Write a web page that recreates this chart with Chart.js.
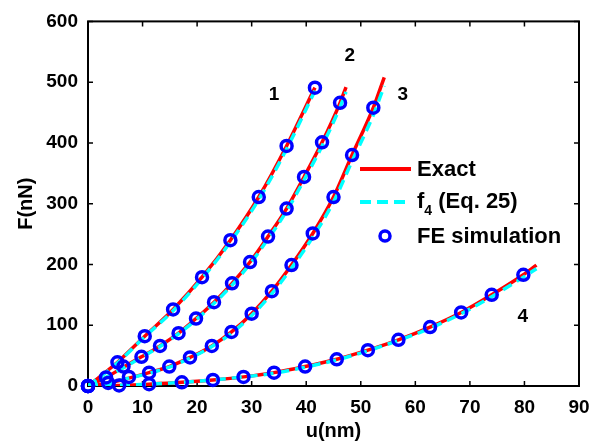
<!DOCTYPE html>
<html>
<head>
<meta charset="utf-8">
<script src="https://cdn.jsdelivr.net/npm/chart.js@4/dist/chart.umd.min.js"></script>
<style>
  html, body { margin: 0; padding: 0; background: #fff; }
  canvas { display: block; }
</style>
</head>
<body>
<canvas id="grafico" width="603" height="442"></canvas>
<script>
// displacement u (nm) and force F (nN)
const u1 = [0, 5.4, 10.4, 15.6, 20.9, 26.1, 31.3, 36.4, 41.6];
const exact1 = [0, 39, 82, 126, 179, 240, 311, 395, 491];
const f4_1 = [0, 38, 81, 124, 177, 237, 307, 390, 486];
const fe1 = [0, 39, 82, 126, 179, 240, 311, 395, 491];

const u2 = [0, 3.3, 6.5, 9.8, 13.2, 16.6, 19.8, 23.1, 26.4, 29.7, 33.0, 36.4, 39.6, 42.9, 46.2, 47.3];
const exact2 = [0, 14, 31, 48, 66, 87, 111, 138, 169, 204, 246, 292, 344, 401, 466, 492];
const f4_2 = [0, 14, 30, 47, 65, 86, 109, 136, 166, 201, 242, 288, 339, 395, 459, 484];
const fe2 = [0, 14, 32, 48, 66, 87, 111, 138, 169, 204, 246, 292, 344, 401, 466];

const u3 = [0, 3.7, 7.5, 11.2, 14.9, 18.7, 22.7, 26.3, 30.0, 33.7, 37.3, 41.2, 45.0, 48.4, 52.3, 54.3];
const exact3 = [0, 5, 13, 22, 32, 47, 66, 89, 119, 156, 199, 251, 311, 380, 458, 508];
const f4_3 = [0, 5, 13, 21, 31, 46, 65, 87, 116, 152, 194, 245, 303, 370, 446, 494];
const fe3 = [0, 5, 15, 22, 32, 47, 66, 89, 119, 156, 199, 251, 311, 380, 458];

const u4 = [0, 5.7, 11.2, 17.2, 22.9, 28.5, 34.1, 39.8, 45.6, 51.3, 56.9, 62.7, 68.4, 74.0, 79.8, 82.2];
const exact4 = [0, 1, 3, 6, 10, 15, 22, 32, 44, 59, 76, 97, 121, 150, 183, 199];
const f4_4 = [0, 1, 3, 6, 10, 15, 21, 31, 43, 58, 75, 95, 119, 147, 179, 193];
const fe4 = [0, 1, 3, 6, 10, 15, 22, 32, 44, 59, 76, 97, 121, 150, 183];

const curveLabels = ["1", "2", "3", "4"];
const labelU = [34.1, 48.0, 57.7, 79.7];
const labelF = [479, 543, 479, 114];

const legendLabels = ["Exact", "f", "FE simulation"];

const xTicks = [0, 10, 20, 30, 40, 50, 60, 70, 80, 90];
const yTicks = [0, 100, 200, 300, 400, 500, 600];

const FONT = "'Liberation Sans', Arial, Helvetica, sans-serif";
const RED = "#ff0000";
const CYAN = "#00ffff";
const BLUE = "#0000ff";

function pares(xs, ys) {
    return ys.map((y, i) => ({ x: xs[i], y: y }));
}

function linhaExata(xs, ys) {
    return {
        data: pares(xs, ys), showLine: true, borderColor: RED, borderWidth: 3.5,
        pointRadius: 0, cubicInterpolationMode: "monotone", order: 3
    };
}
function linhaF4(xs, ys) {
    return {
        data: pares(xs, ys), showLine: true, borderColor: CYAN, borderWidth: 3.5,
        borderDash: [10, 6], pointRadius: 0, cubicInterpolationMode: "monotone", order: 2
    };
}
function circulos(xs, ys) {
    return {
        data: pares(xs, ys), showLine: false, pointRadius: 5.5, pointBorderWidth: 3.5,
        pointBorderColor: BLUE, pointBackgroundColor: "rgba(0,0,0,0)", order: 1, clip: false
    };
}

// box, inward ticks, curve numbers and legend
const moldura = {
    id: "moldura",
    beforeDatasetsDraw(chart) {
        const ctx = chart.ctx;
        const a = chart.chartArea;
        const sx = chart.scales.x, sy = chart.scales.y;
        ctx.save();
        ctx.strokeStyle = "#000";
        ctx.lineWidth = 2;
        ctx.strokeRect(a.left, a.top, a.right - a.left, a.bottom - a.top);
        ctx.lineWidth = 1.5;
        ctx.beginPath();
        xTicks.forEach(v => {
            const px = sx.getPixelForValue(v);
            ctx.moveTo(px, a.bottom); ctx.lineTo(px, a.bottom - 5);
            ctx.moveTo(px, a.top); ctx.lineTo(px, a.top + 5);
        });
        yTicks.forEach(v => {
            const py = sy.getPixelForValue(v);
            ctx.moveTo(a.left, py); ctx.lineTo(a.left + 5, py);
            ctx.moveTo(a.right, py); ctx.lineTo(a.right - 5, py);
        });
        ctx.stroke();
        ctx.restore();
    },
    afterDatasetsDraw(chart) {
        const ctx = chart.ctx;
        const sx = chart.scales.x, sy = chart.scales.y;
        ctx.save();
        ctx.fillStyle = "#000";
        ctx.textAlign = "center";
        ctx.textBaseline = "middle";
        ctx.font = "bold 19px " + FONT;
        curveLabels.forEach((t, i) => {
            ctx.fillText(t, sx.getPixelForValue(labelU[i]), sy.getPixelForValue(labelF[i]));
        });

        // legend
        ctx.lineWidth = 4;
        ctx.strokeStyle = RED;
        ctx.beginPath(); ctx.moveTo(360, 169); ctx.lineTo(411, 169); ctx.stroke();
        ctx.strokeStyle = CYAN;
        ctx.setLineDash([11, 6]);
        ctx.beginPath(); ctx.moveTo(360, 202); ctx.lineTo(411, 202); ctx.stroke();
        ctx.setLineDash([]);
        ctx.strokeStyle = BLUE;
        ctx.lineWidth = 3.5;
        ctx.beginPath(); ctx.arc(385, 236, 5, 0, Math.PI * 2); ctx.stroke();

        ctx.textAlign = "left";
        ctx.font = "bold 22px " + FONT;
        ctx.fillText(legendLabels[0], 417, 170);
        ctx.fillText(legendLabels[1], 417, 202);
        let w = ctx.measureText(legendLabels[1]).width;
        ctx.font = "bold 14px " + FONT;
        ctx.fillText("4", 417 + w, 211);
        let w2 = ctx.measureText("4").width;
        ctx.font = "bold 22px " + FONT;
        ctx.fillText(" (Eq. 25)", 417 + w + w2, 202);
        ctx.fillText(legendLabels[2], 417, 237);
        ctx.restore();
    }
};

function criarGrafico() {
    const canvas = document.getElementById("grafico");

    new Chart(canvas, {
        type: "scatter",
        data: {
            datasets: [
                linhaExata(u1, exact1), linhaF4(u1, f4_1), circulos(u1, fe1),
                linhaExata(u2, exact2), linhaF4(u2, f4_2), circulos(u2, fe2),
                linhaExata(u3, exact3), linhaF4(u3, f4_3), circulos(u3, fe3),
                linhaExata(u4, exact4), linhaF4(u4, f4_4), circulos(u4, fe4)
            ]
        },
        options: {
            responsive: false,
            animation: false,
            devicePixelRatio: 1,
            layout: { padding: { left: 0, right: 24, top: 19, bottom: 0 } },
            plugins: { legend: { display: false }, tooltip: { enabled: false } },
            scales: {
                x: {
                    type: "linear", min: 0, max: 90,
                    afterBuildTicks: s => { s.ticks = xTicks.map(v => ({ value: v })); },
                    grid: { display: false, drawTicks: false }, border: { display: false },
                    ticks: { color: "#000", padding: 10, font: { family: FONT, size: 19, weight: "bold" } },
                    title: {
                        display: true, text: "u(nm)", color: "#000",
                        padding: { top: 0, bottom: 0 },
                        font: { family: FONT, size: 20, weight: "bold", lineHeight: 1.1 }
                    },
                    afterFit: s => { s.height = 56; }
                },
                y: {
                    type: "linear", min: 0, max: 600,
                    afterBuildTicks: s => { s.ticks = yTicks.map(v => ({ value: v })); },
                    grid: { display: false, drawTicks: false }, border: { display: false },
                    ticks: { color: "#000", padding: 10, font: { family: FONT, size: 19, weight: "bold" } },
                    title: {
                        display: true, text: "F(nN)", color: "#000",
                        padding: { top: 14, bottom: 0 },
                        font: { family: FONT, size: 20, weight: "bold", lineHeight: 1.2 }
                    },
                    afterFit: s => { s.width = 88; }
                }
            }
        },
        plugins: [moldura]
    });
}

window.onload = criarGrafico;
</script>
</body>
</html>
